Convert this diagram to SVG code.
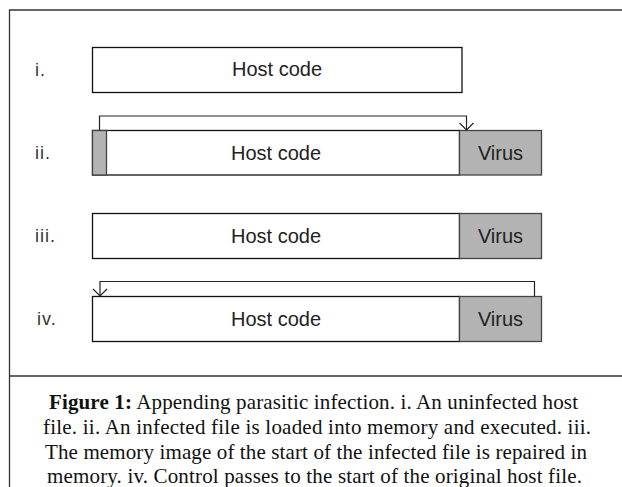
<svg xmlns="http://www.w3.org/2000/svg" width="622" height="487" viewBox="0 0 622 487">
<style>
.frame{fill:none;stroke:#333;stroke-width:1.3}
.host{fill:#fff;stroke:#111;stroke-width:1.3}
.virus{fill:#b3b3b3;stroke:#444;stroke-width:1.3}
.lbl{font-family:"Liberation Sans",Arial,sans-serif;font-size:20px;fill:#222;text-anchor:middle}
.row{font-family:"Liberation Sans",Arial,sans-serif;font-size:18px;fill:#333;letter-spacing:1px}
.cap{font-family:"Liberation Serif","Times New Roman",serif;font-size:21px;fill:#111}
.conn{fill:none;stroke:#222;stroke-width:1.2}
</style>
<rect width="622" height="487" fill="#fff"/>
<g id="frame">
<polyline class="frame" points="9.5,487 9.5,10 622,10"/>
<line class="frame" x1="9.5" y1="376" x2="622" y2="376"/>
</g>
<g id="row-labels">
<text class="row" x="35" y="76">i.</text>
<text class="row" x="35" y="159">ii.</text>
<text class="row" x="35" y="242">iii.</text>
<text class="row" x="37" y="325">iv.</text>
</g>
<g id="host-i">
<rect class="host" x="92.5" y="47.5" width="369.5" height="45"/>
<text class="lbl" x="277" y="76">Host code</text>
</g>
<g id="host-ii">
<rect class="host" x="92.5" y="130.5" width="367" height="44.5"/>
<rect class="virus" x="92.5" y="130.5" width="14" height="44.5"/>
<text class="lbl" x="276" y="159.5">Host code</text>
</g>
<g id="virus-ii">
<rect class="virus" x="459.5" y="130.5" width="82" height="44.5"/>
<text class="lbl" x="500.5" y="159.5">Virus</text>
</g>
<g id="host-iii">
<rect class="host" x="92.5" y="213.5" width="367" height="45"/>
<text class="lbl" x="276" y="242.5">Host code</text>
</g>
<g id="virus-iii">
<rect class="virus" x="459.5" y="213.5" width="82" height="45"/>
<text class="lbl" x="500.5" y="242.5">Virus</text>
</g>
<g id="host-iv">
<rect class="host" x="92.5" y="296.5" width="367" height="45"/>
<text class="lbl" x="276" y="325.5">Host code</text>
</g>
<g id="virus-iv">
<rect class="virus" x="459.5" y="296.5" width="82" height="45"/>
<text class="lbl" x="500.5" y="325.5">Virus</text>
</g>
<g id="connectors">
<polyline class="conn" points="99.5,130.5 99.5,116 466.5,116 466.5,130"/>
<polyline class="conn" points="459.5,123 466.5,130 473.5,123"/>
<polyline class="conn" points="534.5,296.5 534.5,281.5 100,281.5 100,296"/>
<polyline class="conn" points="93,289 100,296 107,289"/>
</g>
<g id="caption">
<text class="cap" x="49" y="409" textLength="529" lengthAdjust="spacing"><tspan font-weight="bold">Figure 1:</tspan> Appending parasitic infection. i. An uninfected host</text>
<text class="cap" x="43" y="434" textLength="548" lengthAdjust="spacing">file. ii. An infected file is loaded into memory and executed. iii.</text>
<text class="cap" x="45" y="459" textLength="542" lengthAdjust="spacing">The memory image of the start of the infected file is repaired in</text>
<text class="cap" x="47" y="483" textLength="535" lengthAdjust="spacing">memory. iv. Control passes to the start of the original host file.</text>
</g>
</svg>
